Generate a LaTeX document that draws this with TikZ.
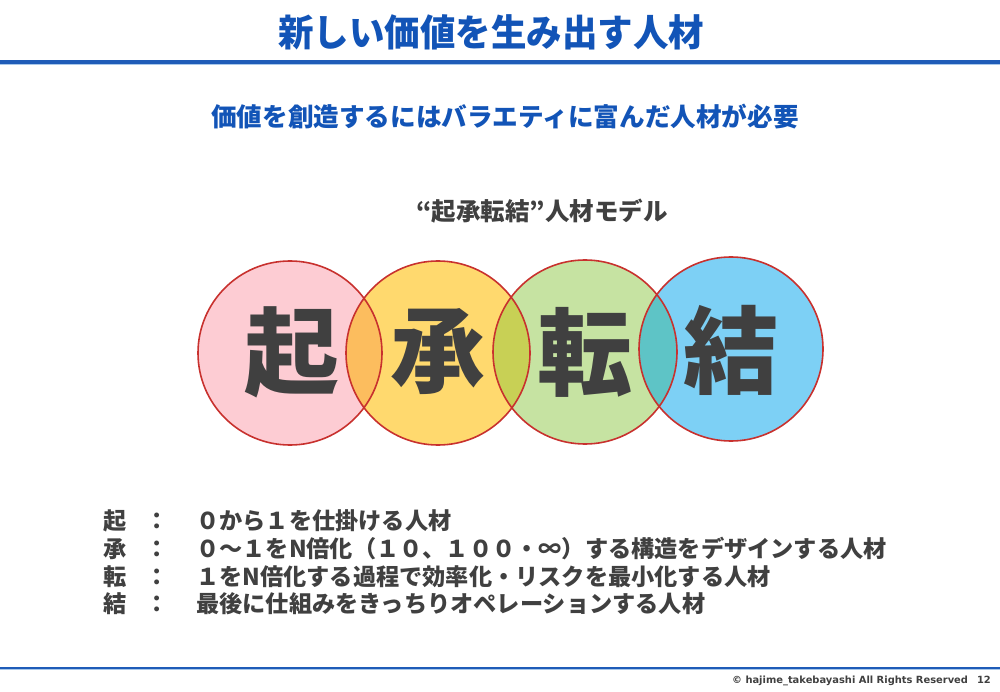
\documentclass[tikz,border=0pt]{standalone}
\usepackage{fontspec}
\newfontfamily\cjk{Noto Sans CJK JP}
\newfontfamily\foot{DejaVu Sans}
\definecolor{ttl}{HTML}{1254B7}
\definecolor{rule}{HTML}{1F5CB8}
\definecolor{rulel}{HTML}{A9C8EA}
\definecolor{txt}{HTML}{404040}
\definecolor{cpink}{HTML}{FDCCD3}
\definecolor{cyel}{HTML}{FFD96E}
\definecolor{cgrn}{HTML}{C6E3A2}
\definecolor{cblu}{HTML}{7DD0F5}
\definecolor{opy}{HTML}{FCBD5E}
\definecolor{ygr}{HTML}{C8D055}
\definecolor{gbl}{HTML}{5EC4C6}
\definecolor{edge}{HTML}{C8312E}
\tikzset{
  big/.style={font=\cjk\bfseries\fontsize{95}{95}\selectfont, text=txt, inner sep=0pt},
  item/.style={font=\cjk\bfseries\fontsize{23.2}{25}\selectfont, text=txt, inner sep=0pt, anchor=west},
  ring/.style={draw=edge, line width=1.6pt},
}
\begin{document}
\begin{tikzpicture}[x=1pt,y=-1pt]
\useasboundingbox (0,0) rectangle (1000,692);
\fill[white] (0,0) rectangle (1000,692);
% title
\node[font=\cjk\bfseries\fontsize{35.5}{37}\selectfont, text=ttl, inner sep=0pt, yscale=1.05] (title) at (491,32) {新しい価値を生み出す人材};
\fill[rule] (0,60.5) rectangle (1000,64);
\fill[rulel] (0,64) rectangle (1000,65.5);
\node[font=\cjk\bfseries\fontsize{25.6}{27}\selectfont, text=ttl, inner sep=0pt] (sub) at (505,117) {価値を創造するにはバラエティに富んだ人材が必要};
\node[font=\cjk\bfseries\fontsize{24.5}{26}\selectfont, text=txt, inner sep=0pt] (model) at (542,211) {“起承転結”人材モデル};
% circles
\coordinate (c1) at (290,353);
\coordinate (c2) at (438,353);
\coordinate (c3) at (585,352);
\coordinate (c4) at (731,349);
\def\R{92}
\fill[cpink] (c1) circle (\R);
\fill[cyel] (c2) circle (\R);
\fill[cgrn] (c3) circle (\R);
\fill[cblu] (c4) circle (\R);
\begin{scope}\clip (c1) circle (\R); \fill[opy] (c2) circle (\R); \end{scope}
\begin{scope}\clip (c2) circle (\R); \fill[ygr] (c3) circle (\R); \end{scope}
\begin{scope}\clip (c3) circle (\R); \fill[gbl] (c4) circle (\R); \end{scope}
\draw[ring] (c1) circle (\R);
\draw[ring] (c2) circle (\R);
\draw[ring] (c3) circle (\R);
\draw[ring] (c4) circle (\R);
\node[big] (k1) at (292,352) {起};
\node[big] (k2) at (438,352) {承};
\node[big] (k3) at (585,352) {転};
\node[big] (k4) at (731,350) {結};
% list
\foreach \y/\k/\t [count=\i] in {521/起/０から１を仕掛ける人材, 549/承/０～１をN倍化（１０、１００・∞）する構造をデザインする人材, 577/転/１をN倍化する過程で効率化・リスクを最小化する人材, 604/結/最後に仕組みをきっちりオペレーションする人材}{
  \node[item] (l\i) at (103,\y) {\k};
  \node[item] (c\i) at (145,\y) {：};
  \node[item] (t\i) at (196,\y) {\t};
}
% footer
\fill[rule] (0,666.5) rectangle (1000,669);
\fill[rulel] (0,669) rectangle (1000,670);
\node[font=\foot\bfseries\fontsize{9.9}{11}\selectfont, text=txt, inner sep=0pt, anchor=east] (ft) at (991,681) {© hajime\_takebayashi All Rights Reserved\hspace{9pt}12};
\end{tikzpicture}
\end{document}
